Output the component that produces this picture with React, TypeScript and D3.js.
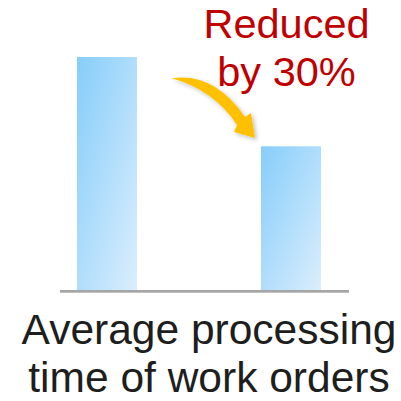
import * as React from "react";
import * as d3 from "d3";

// chart data
const categories = ["Before", "After"];
const values = [100, 62];
const labelLines = ["Average processing", "time of work orders"];
const noteLines = ["Reduced", "by 30%"];

const W = 401;
const H = 401;

export default function App() {
  const x = d3.scaleBand<string>()
    .domain(categories)
    .range([77, 321])
    .paddingInner(0.674)
    .paddingOuter(0);

  const y = d3.scaleLinear()
    .domain([0, 100])
    .range([292, 57]);

  const arrowPath =
    "M171.7,78.3 " +
    "Q214,72 245,117 " +
    "L251,113 L255,138 L234,132 L237,125 " +
    "Q214,90 171.7,78.3 Z";

  return (
    <svg width={W} height={H} style={{ position: "absolute", left: 0, top: 0 }}
      fontFamily="'Liberation Sans', Arial, sans-serif">
      <defs>
        <linearGradient id="barGrad" x1="0" y1="0" x2="1" y2="1">
          <stop offset="0" stopColor="#86cdfa" />
          <stop offset="1" stopColor="#dbeefd" />
        </linearGradient>
        <filter id="shadow" x="-20%" y="-20%" width="150%" height="150%">
          <feDropShadow dx="2" dy="2" stdDeviation="2" floodColor="#000" floodOpacity="0.25" />
        </filter>
      </defs>

      {categories.map((c, i) => (
        <rect key={c}
          x={x(c)}
          y={y(values[i])}
          width={x.bandwidth()}
          height={y(0) - y(values[i])}
          fill="url(#barGrad)" />
      ))}

      <rect x={60} y={290} width={289} height={2.7} fill="#a6a6a6" />

      <path d={arrowPath} fill="#ffc000" filter="url(#shadow)" />

      <g fill="#c00000" fontSize={41.5} textAnchor="middle">
        {noteLines.map((t, i) => (
          <text key={t} x={286.5} y={38 + i * 48}>{t}</text>
        ))}
      </g>

      <g fill="#1e1e1e" fontSize={42.5} textAnchor="middle">
        {labelLines.map((t, i) => (
          <text key={t} x={209} y={344 + i * 48}>{t}</text>
        ))}
      </g>
    </svg>
  );
}
